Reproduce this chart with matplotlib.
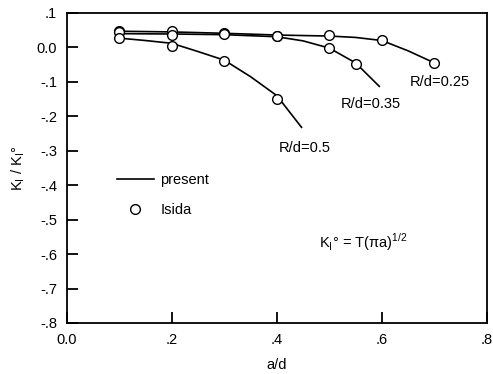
import matplotlib
matplotlib.use("Agg")
import matplotlib.pyplot as plt

plt.rcParams["font.family"] = ["Liberation Sans", "DejaVu Sans"]
plt.rcParams["mathtext.fontset"] = "custom"
plt.rcParams["mathtext.rm"] = "Liberation Sans"

# --- "present" curves -------------------------------------------------------
x_p25 = [0.1, 0.2, 0.3, 0.4, 0.5, 0.55, 0.6, 0.65, 0.7]
y_p25 = [0.047, 0.045, 0.041, 0.036, 0.033, 0.029, 0.020, -0.010, -0.045]

x_p35 = [0.1, 0.2, 0.3, 0.4, 0.45, 0.5, 0.55, 0.595]
y_p35 = [0.040, 0.039, 0.037, 0.031, 0.019, -0.002, -0.045, -0.113]

x_p50 = [0.1, 0.15, 0.2, 0.25, 0.3, 0.35, 0.4, 0.447]
y_p50 = [0.027, 0.020, 0.012, -0.012, -0.037, -0.085, -0.140, -0.232]

# --- Isida points -----------------------------------------------------------
x_i25 = [0.1, 0.2, 0.3, 0.4, 0.5, 0.6, 0.7]
y_i25 = [0.048, 0.047, 0.043, 0.034, 0.036, 0.022, -0.046]

x_i35 = [0.1, 0.2, 0.3, 0.4, 0.5, 0.55]
y_i35 = [0.045, 0.036, 0.040, 0.032, -0.002, -0.049]

x_i50 = [0.1, 0.2, 0.3, 0.4]
y_i50 = [0.027, 0.005, -0.038, -0.149]

xticks = [0.0, 0.2, 0.4, 0.6, 0.8]
xticklabels = ["0.0", ".2", ".4", ".6", ".8"]
yticks = [0.1, 0.0, -0.1, -0.2, -0.3, -0.4, -0.5, -0.6, -0.7, -0.8]
yticklabels = [".1", "0.0", "-.1", "-.2", "-.3", "-.4", "-.5", "-.6", "-.7", "-.8"]

labels = ["R/d=0.25", "R/d=0.35", "R/d=0.5"]
label_pos = [(0.711, -0.101), (0.578, -0.165), (0.454, -0.292)]

fig = plt.figure(figsize=(4.93, 3.74), dpi=100)
ax = fig.add_axes([0.1353, 0.1364, 0.8525, 0.8289])

ax.set_xlim(0.0, 0.8)
ax.set_ylim(-0.8, 0.1)
ax.set_xticks(xticks)
ax.set_xticklabels(xticklabels)
ax.set_yticks(yticks)
ax.set_yticklabels(yticklabels)
ax.tick_params(direction="in", length=8, width=1.3, color="black",
               labelsize=10.5, pad=7)

line_kw = dict(color="black", lw=1.2)
mk_kw = dict(ls="none", marker="o", ms=7, mfc="white", mec="black", mew=1.0)

ax.plot(x_p25, y_p25, **line_kw, label="present")
ax.plot(x_p35, y_p35, **line_kw)
ax.plot(x_p50, y_p50, **line_kw)
ax.plot(x_i25, y_i25, **mk_kw, label="Isida")
ax.plot(x_i35, y_i35, **mk_kw)
ax.plot(x_i50, y_i50, **mk_kw)

for txt, (tx, ty) in zip(labels, label_pos):
    ax.text(tx, ty, txt, fontsize=10.5, ha="center", va="center")

ax.text(0.564, -0.566, r"K$_\mathregular{I}$° = T(πa)$^\mathregular{1/2}$",
        fontsize=10.5, ha="center", va="center")

ax.legend(loc="upper left", bbox_to_anchor=(0.12, 0.485), frameon=False,
          fontsize=10.5, handlelength=2.5, handletextpad=0.45,
          labelspacing=1.1, borderpad=0, borderaxespad=0, numpoints=1)

for s in ax.spines.values():
    s.set_linewidth(1.3)

ax.set_xlabel("a/d", fontsize=10.5)
ax.set_ylabel(r"K$_\mathregular{I}$ / K$_\mathregular{I}$°", fontsize=10.5)
ax.xaxis.set_label_coords(0.5, -0.112)
ax.yaxis.set_label_coords(-0.095, 0.5)

fig.savefig("out.png", dpi=100)
